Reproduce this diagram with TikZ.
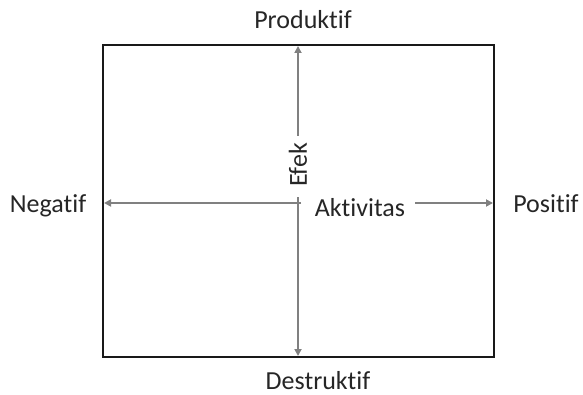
\documentclass[tikz,border=0pt]{standalone}
\usepackage{fontspec}
\setmainfont[RawFeature=-liga]{Carlito}
\usetikzlibrary{arrows.meta}
\begin{document}
\begin{tikzpicture}[x=1pt,y=-1pt,
  lbl/.style={font=\fontsize{26}{30}\selectfont, text=black!85, inner sep=0pt},
  arr/.style={draw=black!50, line width=2pt, -{Triangle[length=7pt,width=7pt]}},
  frame/.style={draw=black!90, line width=2pt}]
\useasboundingbox (0,0) rectangle (583,395);
\draw[frame] (103,45) rectangle (494,357);
\coordinate (T) at (298,46);
\coordinate (B) at (298,356);
\coordinate (L) at (104,203);
\coordinate (R) at (493,203);
\coordinate (X) at (301,203);
\node[lbl, anchor=base] at (303,29) {Produktif};
\node[lbl, anchor=base] at (318,389) {Destruktif};
\node[lbl, anchor=base] at (48,213) {Negatif};
\node[lbl, anchor=base] at (546,213) {Positif};
\node[lbl, rotate=90] (efek) at (298,165) {Efek};
\node[lbl, anchor=base] (akt) at (360,217) {Aktivitas};
\draw[arr] ([xshift=10pt]akt.east |- R) -- (R);
\draw[arr] (X) -- (L);
\draw[arr] ([yshift=7pt]T |- efek.east) -- (T);
\draw[arr] ([yshift=-10pt]B |- efek.west) -- (B);
\end{tikzpicture}
\end{document}
